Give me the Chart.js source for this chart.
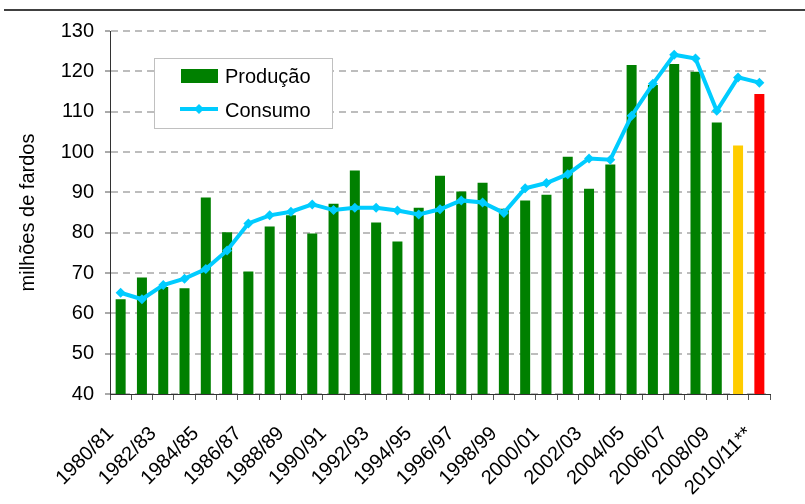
<!DOCTYPE html>
<html lang="pt">
<head>
  <meta charset="UTF-8">
  <title>Produção e consumo mundial</title>
  <script src="https://cdn.jsdelivr.net/npm/chart.js"></script>
  <style>
    body { margin: 0; background: #fff; }
    #caixa { width: 805px; height: 504px; }
  </style>
</head>
<body>
  <div id="caixa"><canvas id="grafico" width="805" height="504"></canvas></div>

  <script>
    // safras 1980/81 .. 2010/11 (milhões de fardos)
    const safras = [
      "1980/81", "1981/82", "1982/83", "1983/84", "1984/85", "1985/86", "1986/87", "1987/88",
      "1988/89", "1989/90", "1990/91", "1991/92", "1992/93", "1993/94", "1994/95", "1995/96",
      "1996/97", "1997/98", "1998/99", "1999/00", "2000/01", "2001/02", "2002/03", "2003/04",
      "2004/05", "2005/06", "2006/07", "2007/08", "2008/09", "2009/10*", "2010/11**"
    ];
    const producao = [
      63.5, 68.9, 66.5, 66.2, 88.7, 80.1, 70.4, 81.5,
      84.3, 79.8, 87.2, 95.4, 82.5, 77.8, 86.2, 94.1,
      90.2, 92.4, 85.9, 88.0, 89.4, 98.8, 90.9, 96.9,
      121.6, 116.6, 121.8, 119.9, 107.3, 101.6, 114.4
    ];
    const consumo = [
      65.1, 63.5, 67.0, 68.6, 71.0, 75.6, 82.3, 84.3,
      85.2, 87.0, 85.6, 86.2, 86.2, 85.5, 84.5, 85.8,
      88.0, 87.5, 84.9, 91.0, 92.3, 94.5, 98.4, 98.1,
      109.0, 116.9, 124.1, 123.2, 110.2, 118.5, 117.2
    ];
    const yMin = 40, yMax = 130, yPasso = 10;

    const verde = "#008000";
    const ciano = "#00CCFF";
    const coresBarras = safras.map((s, i) => i === 29 ? "#FFCC00" : (i === 30 ? "#FF0000" : verde));
    const fonte = "'Liberation Sans', Arial, sans-serif";

    // linha escura no topo + legenda dentro do gráfico
    const extras = {
      id: "extras",
      afterDraw(chart) {
        const ctx = chart.ctx;
        ctx.save();
        ctx.strokeStyle = "#404040";
        ctx.lineWidth = 2;
        ctx.beginPath();
        ctx.moveTo(4, 10);
        ctx.lineTo(805, 10);
        ctx.stroke();

        ctx.fillStyle = "#fff";
        ctx.fillRect(154.5, 58.5, 178, 70);
        ctx.strokeStyle = "#c0c0c0";
        ctx.lineWidth = 1;
        ctx.strokeRect(154.5, 58.5, 178, 70);

        ctx.fillStyle = verde;
        ctx.fillRect(181, 69, 37, 14);

        ctx.strokeStyle = ciano;
        ctx.lineWidth = 4;
        ctx.beginPath();
        ctx.moveTo(180, 109);
        ctx.lineTo(218, 109);
        ctx.stroke();
        ctx.fillStyle = ciano;
        ctx.beginPath();
        ctx.moveTo(199, 104);
        ctx.lineTo(204, 109);
        ctx.lineTo(199, 114);
        ctx.lineTo(194, 109);
        ctx.closePath();
        ctx.fill();

        ctx.fillStyle = "#000";
        ctx.font = "20px " + fonte;
        ctx.textBaseline = "alphabetic";
        ctx.fillText(chart.data.datasets[1].label, 225, 83);
        ctx.fillText(chart.data.datasets[0].label, 225, 117);
        ctx.restore();
      }
    };

    new Chart(document.getElementById("grafico"), {
      data: {
        labels: safras,
        datasets: [
          {
            type: "line",
            label: "Consumo",
            data: consumo,
            borderColor: ciano,
            backgroundColor: ciano,
            borderWidth: 4,
            pointStyle: "rectRot",
            pointRadius: 5,
            pointBorderWidth: 0,
            tension: 0,
            order: 0
          },
          {
            type: "bar",
            label: "Produção",
            data: producao,
            backgroundColor: coresBarras,
            categoryPercentage: 1,
            barPercentage: 0.47,
            order: 1
          }
        ]
      },
      options: {
        responsive: false,
        animation: false,
        layout: { padding: { left: 0, top: 31, right: 35, bottom: 0 } },
        plugins: {
          legend: { display: false },
          tooltip: { enabled: false }
        },
        scales: {
          x: {
            grid: { offset: true, drawOnChartArea: false, tickLength: 6, color: "#555", tickColor: "#555" },
            border: { color: "#333", width: 1 },
            ticks: {
              autoSkip: false,
              minRotation: 45,
              maxRotation: 45,
              labelOffset: -10,
              padding: 22,
              color: "#000",
              font: { family: fonte, size: 20 },
              callback: (v, i) => i % 2 === 0 ? safras[i] : ""
            },
            afterFit(scale) { scale.height = 504 - 394; }
          },
          y: {
            min: yMin,
            max: yMax,
            grid: { color: "#bdbdbd", lineWidth: 2, tickColor: "#555", tickWidth: 1, tickLength: 5, tickBorderDash: [] },
            border: { color: "#333", width: 1, dash: [7, 5] },
            ticks: {
              stepSize: yPasso,
              padding: 11,
              color: "#000",
              font: { family: fonte, size: 20 }
            },
            title: {
              display: true,
              text: "milhões de fardos",
              color: "#000",
              font: { family: fonte, size: 20 },
              padding: { top: 16, bottom: 0 }
            },
            afterFit(scale) { scale.width = 110; }
          }
        }
      },
      plugins: [extras]
    });
  </script>
</body>
</html>
